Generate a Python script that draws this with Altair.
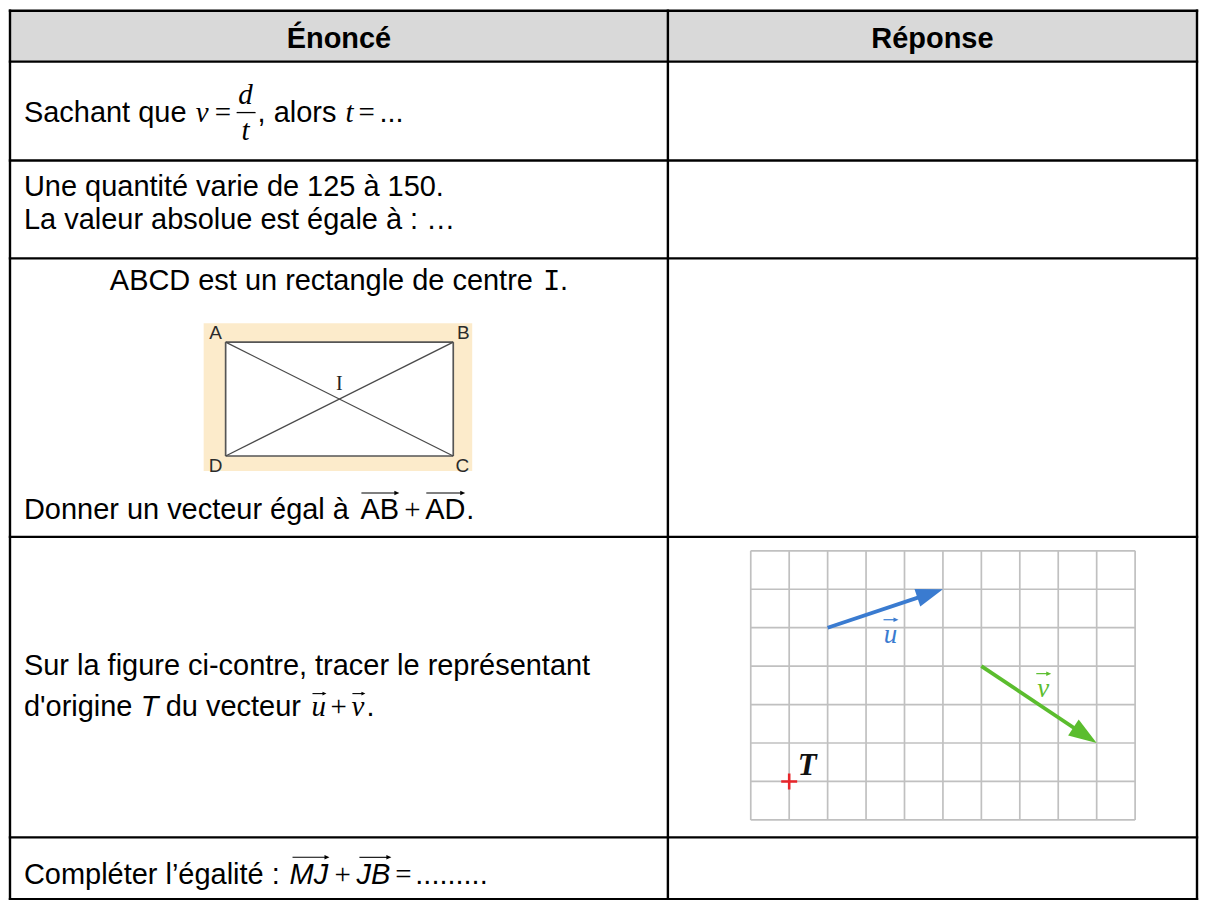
import math
import altair as alt
import pandas as pd

# ---------------- content ----------------
HEADERS = ["Énoncé", "Réponse"]
ROW1 = ["Sachant que", "v", "=", "d", "t", ", alors", "t", "=", "..."]
ROW2 = ["Une quantité varie de 125 à 150.", "La valeur absolue est égale à : …"]
ROW3_TITLE = ["ABCD est un rectangle de centre", "I", "."]
ROW3_QUESTION = ["Donner un vecteur égal à", "AB", "+", "AD", "."]
ROW4_LINE1 = "Sur la figure ci-contre, tracer le représentant"
ROW4_LINE2 = ["d'origine", "T", "du vecteur", "u", "+", "v", "."]
ROW5 = ["Compléter l’égalité :", "MJ", "+", "JB", "=", "........."]

RECT_NAMES = ["A", "B", "C", "D"]
RECT_UNIT = [(0, 0), (1, 0), (1, 1), (0, 1)]
CENTER_NAME = "I"

GRID_COLS = 10
GRID_ROWS = 7
VEC_U = [(2, 2), (5, 1)]      # grid (column, row from top): start, end
VEC_V = [(6, 3), (9, 5)]
POINT_T = (1, 6)
VEC_LABELS = ["u", "v", "T"]

# ---------------- layout ----------------
SANS, SERIF, MONO = "Liberation Sans", "Liberation Serif", "Liberation Mono"
FS = 29
X_LEFT, X_MID, X_RIGHT = 10, 669, 1199
ROW_Y = [10, 61, 160, 258, 537, 838, 900]
PAD = 24
CW, CH = 1194, 892
XS = alt.Scale(domain=[8, 8 + CW], nice=False, zero=False)
YS = alt.Scale(domain=[8, 8 + CH], nice=False, zero=False, reverse=True)

BLUE, GREEN, RED = "#3a7bd0", "#5bbd2e", "#e8262b"

segs, rules, heads, rects = [], [], [], []


def seg(t, x, y, st):
    segs.append(dict(text=t, x=x, y=y, st=st))


def rule(x1, y1, x2, y2, grp):
    rules.append(dict(x=x1, y=y1, x2=x2, y2=y2, grp=grp))


def arrow(x1, y1, x2, y2, grp, color, hlen, kind):
    dx, dy = x2 - x1, y2 - y1
    L = math.hypot(dx, dy)
    ux, uy = dx / L, dy / L
    rule(x1, y1, x2 - ux * hlen * 0.6, y2 - uy * hlen * 0.6, grp)
    ang = math.degrees(math.atan2(dx, -dy)) % 360
    heads.append(dict(x=x2, y=y2, angle=ang, size=(2 * hlen) ** 2,
                      color=color, kind=kind))


def rect(x1, y1, x2, y2, color):
    rects.append(dict(x=x1, y=y1, x2=x2, y2=y2, color=color))


# table background and lines
rect(X_LEFT, ROW_Y[0], X_RIGHT, ROW_Y[1], "#d9d9d9")
for y in ROW_Y:
    rule(X_LEFT, y, X_RIGHT, y, "table")
for x in (X_LEFT, X_MID, X_RIGHT):
    rule(x, ROW_Y[0], x, ROW_Y[-1], "table")

# header
seg(HEADERS[0], (X_LEFT + X_MID) / 2, 47, "bold_c")
seg(HEADERS[1], (X_MID + X_RIGHT) / 2, 47, "bold_c")

# row 1
b = 121
seg(ROW1[0], PAD, b, "sans")
seg(ROW1[1], 196, b, "serif_i")
seg(ROW1[2], 215, b, "serif")
seg(ROW1[3], 246, 103, "serif_i_c")
seg(ROW1[4], 246, 139, "serif_i_c")
rule(237, 112, 256, 112, "frac")
seg(ROW1[5], 258, b, "sans")
seg(ROW1[6], 346, b, "serif_i")
seg(ROW1[7], 359, b, "serif")
seg(ROW1[8], 380, b, "sans")

# row 2
seg(ROW2[0], PAD, 196, "sans")
seg(ROW2[1], PAD, 229, "sans")

# row 3
b = 290
seg(ROW3_TITLE[0], 110, b, "sans")
seg(ROW3_TITLE[1], 544, b, "mono")
seg(ROW3_TITLE[2], 561, b, "sans")
FX0, FY0, FX1, FY1 = 204, 323, 473, 471          # beige frame
RX0, RY0, RX1, RY1 = 226, 342, 454, 456          # rectangle ABCD
rect(FX0, FY0, FX1, FY1, "#fcebcb")
rect(RX0, RY0, RX1, RY1, "#ffffff")
pts = [(RX0 + u * (RX1 - RX0), RY0 + v * (RY1 - RY0)) for u, v in RECT_UNIT]
for i in range(4):
    rule(*pts[i], *pts[(i + 1) % 4], "fig")
rule(*pts[0], *pts[2], "diag")
rule(*pts[1], *pts[3], "diag")
lab_off = [(-10, -3), (10, -3), (9, 16), (-10, 16)]
for name, (px, py), (ox, oy) in zip(RECT_NAMES, pts, lab_off):
    seg(name, px + ox, py + oy, "lab")
seg(CENTER_NAME, (RX0 + RX1) / 2, 390, "lab_serif")

b = 519
seg(ROW3_QUESTION[0], PAD, b, "sans")
seg(ROW3_QUESTION[1], 361, b, "sans")
seg(ROW3_QUESTION[2], 405, b, "serif")
seg(ROW3_QUESTION[3], 426, b, "sans")
seg(ROW3_QUESTION[4], 467, b, "sans")
arrow(362, 493, 400, 493, "small", "#000000", 5, "small")
arrow(427, 493, 466, 493, "small", "#000000", 5, "small")

# row 4
seg(ROW4_LINE1, PAD, 675, "sans")
b = 716
seg(ROW4_LINE2[0], PAD, b, "sans")
seg(ROW4_LINE2[1], 141, b, "sans_i")
seg(ROW4_LINE2[2], 166, b, "sans")
seg(ROW4_LINE2[3], 312, b, "serif_i")
seg(ROW4_LINE2[4], 331, b, "serif")
seg(ROW4_LINE2[5], 352, b, "serif_i")
seg(ROW4_LINE2[6], 367, b, "sans")
arrow(313, 694, 327, 694, "small", "#000000", 4, "small")
arrow(353, 694, 366, 694, "small", "#000000", 4, "small")

# grid figure
GX0, GY0, CELL = 752, 551, 38.5


def g(c, r):
    return GX0 + c * CELL, GY0 + r * CELL


for c in range(GRID_COLS + 1):
    rule(*g(c, 0), *g(c, GRID_ROWS), "grid")
for r in range(GRID_ROWS + 1):
    rule(*g(0, r), *g(GRID_COLS, r), "grid")
arrow(*g(*VEC_U[0]), *g(*VEC_U[1]), "u", BLUE, 27, "big")
arrow(*g(*VEC_V[0]), *g(*VEC_V[1]), "v", GREEN, 28, "big")
tx, ty = g(*POINT_T)
heads.append(dict(x=tx, y=ty, angle=0, size=256, color=RED, kind="cross"))
seg(VEC_LABELS[0], 892, 643, "u_lab")
arrow(885, 620, 900, 620, "ulab", BLUE, 5, "small")
seg(VEC_LABELS[1], 1045, 697, "v_lab")
arrow(1038, 674, 1053, 674, "vlab", GREEN, 5, "small")
seg(VEC_LABELS[2], tx + 18, ty - 6, "T_lab")

# row 5
b = 885
seg(ROW5[0], PAD, b, "sans")
seg(ROW5[1], 290, b, "sans_i")
seg(ROW5[2], 335, b, "serif")
seg(ROW5[3], 357, b, "sans_i")
seg(ROW5[4], 396, b, "serif")
seg(ROW5[5], 416, b, "sans")
arrow(293, 858, 330, 858, "small", "#000000", 5, "small")
arrow(360, 858, 392, 858, "small", "#000000", 5, "small")

# ---------------- chart ----------------
segs_df = pd.DataFrame(segs)
rules_df = pd.DataFrame(rules)
heads_df = pd.DataFrame(heads)
rects_df = pd.DataFrame(rects)

STYLES = {
    "sans": dict(font=SANS, fontSize=FS),
    "sans_i": dict(font=SANS, fontSize=FS, fontStyle="italic"),
    "bold_c": dict(font=SANS, fontSize=FS, fontWeight="bold", align="center"),
    "serif": dict(font=SERIF, fontSize=FS),
    "serif_i": dict(font=SERIF, fontSize=FS, fontStyle="italic"),
    "serif_i_c": dict(font=SERIF, fontSize=FS, fontStyle="italic", align="center"),
    "mono": dict(font=MONO, fontSize=FS),
    "lab": dict(font=SANS, fontSize=19, align="center", color="#2b2b2b"),
    "lab_serif": dict(font=SERIF, fontSize=20, align="center", color="#222222"),
    "u_lab": dict(font=SERIF, fontSize=27, fontStyle="italic", align="center", color=BLUE),
    "v_lab": dict(font=SERIF, fontSize=27, fontStyle="italic", align="center", color=GREEN),
    "T_lab": dict(font=SERIF, fontSize=31, fontStyle="italic", fontWeight="bold",
                  align="center", color="#111111"),
}
RULE_STYLES = {
    "table": dict(color="#000000", strokeWidth=2.4),
    "frac": dict(color="#000000", strokeWidth=1.3),
    "fig": dict(color="#555555", strokeWidth=1.7),
    "diag": dict(color="#4a4a4a", strokeWidth=1.3),
    "grid": dict(color="#c0c0c0", strokeWidth=1.7),
    "u": dict(color=BLUE, strokeWidth=3.8),
    "v": dict(color=GREEN, strokeWidth=3.8),
    "small": dict(color="#000000", strokeWidth=1.1),
    "ulab": dict(color=BLUE, strokeWidth=1.2),
    "vlab": dict(color=GREEN, strokeWidth=1.2),
}
SHAPES = {
    "big": "M0,0L-0.34,1L0.34,1Z",
    "small": "M0,0L-0.45,1L0.45,1Z",
    "cross": "M-1,0L1,0M0,-1L0,1",
}

X = lambda f="x": alt.X(f"{f}:Q", scale=XS, axis=None)
Y = lambda f="y": alt.Y(f"{f}:Q", scale=YS, axis=None)

layers = [
    alt.Chart(rects_df).mark_rect().encode(
        x=X(), x2="x2:Q", y=Y(), y2="y2:Q",
        color=alt.Color("color:N", scale=None))
]
for grp, sty in RULE_STYLES.items():
    d = rules_df[rules_df.grp == grp]
    if len(d):
        layers.append(alt.Chart(d).mark_rule(strokeCap="square" if grp == "table" else "butt", **sty)
                      .encode(x=X(), x2="x2:Q", y=Y(), y2="y2:Q"))
for kind, path in SHAPES.items():
    d = heads_df[heads_df.kind == kind]
    if not len(d):
        continue
    if kind == "cross":
        mk = alt.Chart(d).mark_point(shape=path, filled=False, strokeWidth=2.6, opacity=1)
        enc = dict(stroke=alt.Stroke("color:N", scale=None))
    else:
        mk = alt.Chart(d).mark_point(shape=path, filled=True, strokeWidth=0, opacity=1)
        enc = dict(fill=alt.Fill("color:N", scale=None))
    layers.append(mk.encode(x=X(), y=Y(), size=alt.Size("size:Q", scale=None),
                            angle=alt.Angle("angle:Q", scale=None), **enc))
for st, sty in STYLES.items():
    d = segs_df[segs_df.st == st]
    if not len(d):
        continue
    props = dict(baseline="alphabetic", align="left", color="#000000")
    props.update(sty)
    layers.append(alt.Chart(d).mark_text(**props).encode(x=X(), y=Y(), text="text:N"))

chart = (
    alt.layer(*layers)
    .properties(width=CW, height=CH, padding=0,
                autosize=alt.AutoSizeParams(type="none"), background="#ffffff")
    .configure_view(strokeWidth=0)
)
chart.save("out.html", embed_options={"renderer": "svg", "actions": False})
